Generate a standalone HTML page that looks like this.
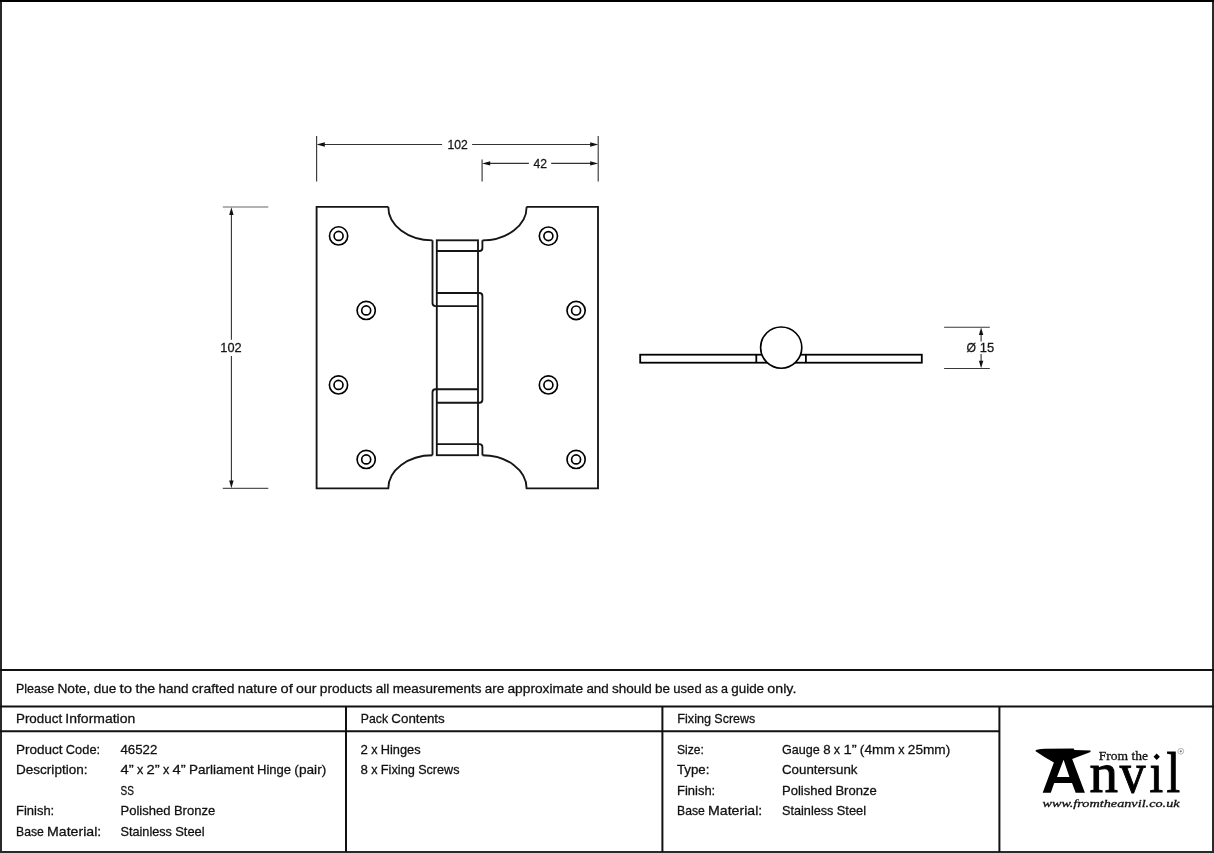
<!DOCTYPE html>
<html><head><meta charset="utf-8"><style>
html,body{margin:0;padding:0;background:#fff;width:1214px;height:853px;overflow:hidden}
svg{display:block;font-family:"Liberation Sans",sans-serif;will-change:transform}
</style></head><body>
<svg width="1214" height="853" viewBox="0 0 1214 853">
<rect width="1214" height="853" fill="#fff"/>
<rect x="1" y="1" width="1212" height="851" fill="none" stroke="#2a2a2a" stroke-width="2"/>
<line x1="0" y1="1" x2="1214" y2="1" stroke="#000" stroke-width="2"/>
<line x1="0" y1="670.1" x2="1214" y2="670.1" stroke="#111" stroke-width="2"/>
<line x1="0" y1="706.5" x2="1214" y2="706.5" stroke="#111" stroke-width="2"/>
<line x1="0" y1="731.3" x2="999.4" y2="731.3" stroke="#111" stroke-width="2"/>
<line x1="346.0" y1="706" x2="346.0" y2="852" stroke="#111" stroke-width="2"/>
<line x1="662.4" y1="706" x2="662.4" y2="852" stroke="#111" stroke-width="2"/>
<line x1="999.4" y1="706" x2="999.4" y2="852" stroke="#111" stroke-width="2"/>
<text x="16.00" y="693.1" font-size="13.40" fill="#111" textLength="38.13" lengthAdjust="spacingAndGlyphs" stroke="#111" stroke-width="0.28">Please</text>
<text x="57.43" y="693.1" font-size="13.40" fill="#111" textLength="32.92" lengthAdjust="spacingAndGlyphs" stroke="#111" stroke-width="0.28">Note,</text>
<text x="93.65" y="693.1" font-size="13.40" fill="#111" textLength="22.61" lengthAdjust="spacingAndGlyphs" stroke="#111" stroke-width="0.28">due</text>
<text x="119.55" y="693.1" font-size="13.40" fill="#111" textLength="12.59" lengthAdjust="spacingAndGlyphs" stroke="#111" stroke-width="0.28">to</text>
<text x="135.44" y="693.1" font-size="13.40" fill="#111" textLength="19.83" lengthAdjust="spacingAndGlyphs" stroke="#111" stroke-width="0.28">the</text>
<text x="158.57" y="693.1" font-size="13.40" fill="#111" textLength="30.01" lengthAdjust="spacingAndGlyphs" stroke="#111" stroke-width="0.28">hand</text>
<text x="191.88" y="693.1" font-size="13.40" fill="#111" textLength="42.54" lengthAdjust="spacingAndGlyphs" stroke="#111" stroke-width="0.28">crafted</text>
<text x="237.72" y="693.1" font-size="13.40" fill="#111" textLength="39.58" lengthAdjust="spacingAndGlyphs" stroke="#111" stroke-width="0.28">nature</text>
<text x="280.60" y="693.1" font-size="13.40" fill="#111" textLength="12.15" lengthAdjust="spacingAndGlyphs" stroke="#111" stroke-width="0.28">of</text>
<text x="296.05" y="693.1" font-size="13.40" fill="#111" textLength="20.46" lengthAdjust="spacingAndGlyphs" stroke="#111" stroke-width="0.28">our</text>
<text x="319.81" y="693.1" font-size="13.40" fill="#111" textLength="52.58" lengthAdjust="spacingAndGlyphs" stroke="#111" stroke-width="0.28">products</text>
<text x="375.69" y="693.1" font-size="13.40" fill="#111" textLength="13.69" lengthAdjust="spacingAndGlyphs" stroke="#111" stroke-width="0.28">all</text>
<text x="392.68" y="693.1" font-size="13.40" fill="#111" textLength="88.85" lengthAdjust="spacingAndGlyphs" stroke="#111" stroke-width="0.28">measurements</text>
<text x="484.84" y="693.1" font-size="13.40" fill="#111" textLength="19.35" lengthAdjust="spacingAndGlyphs" stroke="#111" stroke-width="0.28">are</text>
<text x="507.49" y="693.1" font-size="13.40" fill="#111" textLength="75.61" lengthAdjust="spacingAndGlyphs" stroke="#111" stroke-width="0.28">approximate</text>
<text x="586.40" y="693.1" font-size="13.40" fill="#111" textLength="22.33" lengthAdjust="spacingAndGlyphs" stroke="#111" stroke-width="0.28">and</text>
<text x="612.03" y="693.1" font-size="13.40" fill="#111" textLength="39.77" lengthAdjust="spacingAndGlyphs" stroke="#111" stroke-width="0.28">should</text>
<text x="655.11" y="693.1" font-size="13.40" fill="#111" textLength="14.94" lengthAdjust="spacingAndGlyphs" stroke="#111" stroke-width="0.28">be</text>
<text x="673.34" y="693.1" font-size="13.40" fill="#111" textLength="28.32" lengthAdjust="spacingAndGlyphs" stroke="#111" stroke-width="0.28">used</text>
<text x="704.96" y="693.1" font-size="13.40" fill="#111" textLength="12.70" lengthAdjust="spacingAndGlyphs" stroke="#111" stroke-width="0.28">as</text>
<text x="720.96" y="693.1" font-size="13.40" fill="#111" textLength="6.99" lengthAdjust="spacingAndGlyphs" stroke="#111" stroke-width="0.28">a</text>
<text x="731.26" y="693.1" font-size="13.40" fill="#111" textLength="32.83" lengthAdjust="spacingAndGlyphs" stroke="#111" stroke-width="0.28">guide</text>
<text x="767.39" y="693.1" font-size="13.40" fill="#111" textLength="29.01" lengthAdjust="spacingAndGlyphs" stroke="#111" stroke-width="0.28">only.</text>
<text x="16.00" y="722.6" font-size="13.40" fill="#111" textLength="46.10" lengthAdjust="spacingAndGlyphs" stroke="#111" stroke-width="0.28">Product</text>
<text x="65.35" y="722.6" font-size="13.40" fill="#111" textLength="69.89" lengthAdjust="spacingAndGlyphs" stroke="#111" stroke-width="0.28">Information</text>
<text x="360.80" y="722.6" font-size="13.40" fill="#111" textLength="27.25" lengthAdjust="spacingAndGlyphs" stroke="#111" stroke-width="0.28">Pack</text>
<text x="391.34" y="722.6" font-size="13.40" fill="#111" textLength="53.40" lengthAdjust="spacingAndGlyphs" stroke="#111" stroke-width="0.28">Contents</text>
<text x="677.30" y="722.6" font-size="13.40" fill="#111" textLength="33.81" lengthAdjust="spacingAndGlyphs" stroke="#111" stroke-width="0.28">Fixing</text>
<text x="714.36" y="722.6" font-size="13.40" fill="#111" textLength="40.82" lengthAdjust="spacingAndGlyphs" stroke="#111" stroke-width="0.28">Screws</text>
<text x="16.00" y="753.5" font-size="13.40" fill="#111" textLength="46.58" lengthAdjust="spacingAndGlyphs" stroke="#111" stroke-width="0.28">Product</text>
<text x="65.87" y="753.5" font-size="13.40" fill="#111" textLength="34.21" lengthAdjust="spacingAndGlyphs" stroke="#111" stroke-width="0.28">Code:</text>
<text x="16.00" y="774.0" font-size="13.40" fill="#111" textLength="71.51" lengthAdjust="spacingAndGlyphs" stroke="#111" stroke-width="0.28">Description:</text>
<text x="16.00" y="815.0" font-size="13.40" fill="#111" textLength="38.24" lengthAdjust="spacingAndGlyphs" stroke="#111" stroke-width="0.28">Finish:</text>
<text x="16.00" y="835.5" font-size="13.40" fill="#111" textLength="27.81" lengthAdjust="spacingAndGlyphs" stroke="#111" stroke-width="0.28">Base</text>
<text x="47.10" y="835.5" font-size="13.40" fill="#111" textLength="54.14" lengthAdjust="spacingAndGlyphs" stroke="#111" stroke-width="0.28">Material:</text>
<text x="120.50" y="753.5" font-size="13.40" fill="#111" textLength="36.87" lengthAdjust="spacingAndGlyphs" stroke="#111" stroke-width="0.28">46522</text>
<text x="120.50" y="774.0" font-size="13.40" fill="#111" textLength="13.18" lengthAdjust="spacingAndGlyphs" stroke="#111" stroke-width="0.28">4”</text>
<text x="136.97" y="774.0" font-size="13.40" fill="#111" textLength="6.30" lengthAdjust="spacingAndGlyphs" stroke="#111" stroke-width="0.28">x</text>
<text x="146.56" y="774.0" font-size="13.40" fill="#111" textLength="13.18" lengthAdjust="spacingAndGlyphs" stroke="#111" stroke-width="0.28">2”</text>
<text x="163.03" y="774.0" font-size="13.40" fill="#111" textLength="6.30" lengthAdjust="spacingAndGlyphs" stroke="#111" stroke-width="0.28">x</text>
<text x="172.62" y="774.0" font-size="13.40" fill="#111" textLength="13.18" lengthAdjust="spacingAndGlyphs" stroke="#111" stroke-width="0.28">4”</text>
<text x="189.09" y="774.0" font-size="13.40" fill="#111" textLength="64.59" lengthAdjust="spacingAndGlyphs" stroke="#111" stroke-width="0.28">Parliament</text>
<text x="256.96" y="774.0" font-size="13.40" fill="#111" textLength="34.14" lengthAdjust="spacingAndGlyphs" stroke="#111" stroke-width="0.28">Hinge</text>
<text x="294.39" y="774.0" font-size="13.40" fill="#111" textLength="31.85" lengthAdjust="spacingAndGlyphs" stroke="#111" stroke-width="0.28">(pair)</text>
<text x="120.50" y="794.5" font-size="13.40" fill="#111" textLength="13.37" lengthAdjust="spacingAndGlyphs" stroke="#111" stroke-width="0.28">SS</text>
<text x="120.50" y="815.0" font-size="13.40" fill="#111" textLength="50.09" lengthAdjust="spacingAndGlyphs" stroke="#111" stroke-width="0.28">Polished</text>
<text x="173.88" y="815.0" font-size="13.40" fill="#111" textLength="41.29" lengthAdjust="spacingAndGlyphs" stroke="#111" stroke-width="0.28">Bronze</text>
<text x="120.50" y="835.5" font-size="13.40" fill="#111" textLength="51.47" lengthAdjust="spacingAndGlyphs" stroke="#111" stroke-width="0.28">Stainless</text>
<text x="175.26" y="835.5" font-size="13.40" fill="#111" textLength="29.38" lengthAdjust="spacingAndGlyphs" stroke="#111" stroke-width="0.28">Steel</text>
<text x="360.50" y="753.5" font-size="13.40" fill="#111" textLength="7.37" lengthAdjust="spacingAndGlyphs" stroke="#111" stroke-width="0.28">2</text>
<text x="371.16" y="753.5" font-size="13.40" fill="#111" textLength="6.30" lengthAdjust="spacingAndGlyphs" stroke="#111" stroke-width="0.28">x</text>
<text x="380.75" y="753.5" font-size="13.40" fill="#111" textLength="39.83" lengthAdjust="spacingAndGlyphs" stroke="#111" stroke-width="0.28">Hinges</text>
<text x="360.50" y="774.0" font-size="13.40" fill="#111" textLength="7.37" lengthAdjust="spacingAndGlyphs" stroke="#111" stroke-width="0.28">8</text>
<text x="371.16" y="774.0" font-size="13.40" fill="#111" textLength="6.30" lengthAdjust="spacingAndGlyphs" stroke="#111" stroke-width="0.28">x</text>
<text x="380.75" y="774.0" font-size="13.40" fill="#111" textLength="34.16" lengthAdjust="spacingAndGlyphs" stroke="#111" stroke-width="0.28">Fixing</text>
<text x="418.20" y="774.0" font-size="13.40" fill="#111" textLength="41.24" lengthAdjust="spacingAndGlyphs" stroke="#111" stroke-width="0.28">Screws</text>
<text x="677.00" y="753.5" font-size="13.40" fill="#111" textLength="26.90" lengthAdjust="spacingAndGlyphs" stroke="#111" stroke-width="0.28">Size:</text>
<text x="677.00" y="774.0" font-size="13.40" fill="#111" textLength="32.45" lengthAdjust="spacingAndGlyphs" stroke="#111" stroke-width="0.28">Type:</text>
<text x="677.00" y="794.5" font-size="13.40" fill="#111" textLength="38.24" lengthAdjust="spacingAndGlyphs" stroke="#111" stroke-width="0.28">Finish:</text>
<text x="677.00" y="815.0" font-size="13.40" fill="#111" textLength="27.81" lengthAdjust="spacingAndGlyphs" stroke="#111" stroke-width="0.28">Base</text>
<text x="708.10" y="815.0" font-size="13.40" fill="#111" textLength="54.14" lengthAdjust="spacingAndGlyphs" stroke="#111" stroke-width="0.28">Material:</text>
<text x="782.00" y="753.5" font-size="13.40" fill="#111" textLength="37.88" lengthAdjust="spacingAndGlyphs" stroke="#111" stroke-width="0.28">Gauge</text>
<text x="823.17" y="753.5" font-size="13.40" fill="#111" textLength="7.37" lengthAdjust="spacingAndGlyphs" stroke="#111" stroke-width="0.28">8</text>
<text x="833.83" y="753.5" font-size="13.40" fill="#111" textLength="6.30" lengthAdjust="spacingAndGlyphs" stroke="#111" stroke-width="0.28">x</text>
<text x="843.43" y="753.5" font-size="13.40" fill="#111" textLength="13.18" lengthAdjust="spacingAndGlyphs" stroke="#111" stroke-width="0.28">1”</text>
<text x="859.89" y="753.5" font-size="13.40" fill="#111" textLength="35.03" lengthAdjust="spacingAndGlyphs" stroke="#111" stroke-width="0.28">(4mm</text>
<text x="898.22" y="753.5" font-size="13.40" fill="#111" textLength="6.30" lengthAdjust="spacingAndGlyphs" stroke="#111" stroke-width="0.28">x</text>
<text x="907.81" y="753.5" font-size="13.40" fill="#111" textLength="42.41" lengthAdjust="spacingAndGlyphs" stroke="#111" stroke-width="0.28">25mm)</text>
<text x="782.00" y="774.0" font-size="13.40" fill="#111" textLength="75.50" lengthAdjust="spacingAndGlyphs" stroke="#111" stroke-width="0.28">Countersunk</text>
<text x="782.00" y="794.5" font-size="13.40" fill="#111" textLength="50.09" lengthAdjust="spacingAndGlyphs" stroke="#111" stroke-width="0.28">Polished</text>
<text x="835.38" y="794.5" font-size="13.40" fill="#111" textLength="41.29" lengthAdjust="spacingAndGlyphs" stroke="#111" stroke-width="0.28">Bronze</text>
<text x="782.00" y="815.0" font-size="13.40" fill="#111" textLength="51.47" lengthAdjust="spacingAndGlyphs" stroke="#111" stroke-width="0.28">Stainless</text>
<text x="836.76" y="815.0" font-size="13.40" fill="#111" textLength="29.38" lengthAdjust="spacingAndGlyphs" stroke="#111" stroke-width="0.28">Steel</text>
<line x1="316.6" y1="136" x2="316.6" y2="181.5" stroke="#383838" stroke-width="1.15"/>
<line x1="598.2" y1="136" x2="598.2" y2="181.5" stroke="#383838" stroke-width="1.15"/>
<line x1="482.1" y1="159.5" x2="482.1" y2="181.5" stroke="#383838" stroke-width="1.15"/>
<line x1="320" y1="144.5" x2="442.1" y2="144.5" stroke="#333" stroke-width="1.1"/>
<line x1="472.1" y1="144.5" x2="594" y2="144.5" stroke="#333" stroke-width="1.1"/>
<polygon points="316.6,144.5 324.8,142.3 324.8,146.7" fill="#111"/>
<polygon points="598.2,144.5 590.2,142.3 590.2,146.7" fill="#111"/>
<line x1="486" y1="163.4" x2="528.9" y2="163.4" stroke="#333" stroke-width="1.1"/>
<line x1="551.2" y1="163.4" x2="594" y2="163.4" stroke="#333" stroke-width="1.1"/>
<polygon points="482.1,163.4 490.2,161.2 490.2,165.6" fill="#111"/>
<polygon points="598.2,163.4 590.2,161.2 590.2,165.6" fill="#111"/>
<text x="447.5" y="149.4" font-size="13.20" fill="#1a1a1a" textLength="20.3" lengthAdjust="spacingAndGlyphs" stroke="#111" stroke-width="0.28">102</text>
<text x="533.5" y="167.7" font-size="13.20" fill="#1a1a1a" textLength="13.5" lengthAdjust="spacingAndGlyphs" stroke="#111" stroke-width="0.28">42</text>
<line x1="222.8" y1="207.0" x2="268.3" y2="207.0" stroke="#666" stroke-width="1.2"/>
<line x1="222.8" y1="488.4" x2="268.3" y2="488.4" stroke="#555" stroke-width="1.2"/>
<line x1="231.4" y1="211" x2="231.4" y2="339.7" stroke="#333" stroke-width="1.1"/>
<line x1="231.4" y1="355.9" x2="231.4" y2="484" stroke="#333" stroke-width="1.1"/>
<polygon points="231.4,207.2 229.2,215 233.6,215" fill="#111"/>
<polygon points="231.4,488.2 229.2,480.4 233.6,480.4" fill="#111"/>
<text x="220.3" y="352.4" font-size="13.20" fill="#1a1a1a" textLength="21.3" lengthAdjust="spacingAndGlyphs" stroke="#111" stroke-width="0.28">102</text>
<line x1="944.1" y1="327.2" x2="989.8" y2="327.2" stroke="#383838" stroke-width="1.15"/>
<line x1="944.1" y1="368.5" x2="989.8" y2="368.5" stroke="#383838" stroke-width="1.15"/>
<line x1="981.1" y1="331" x2="981.1" y2="341.4" stroke="#333" stroke-width="1.1"/>
<line x1="981.1" y1="354.1" x2="981.1" y2="365" stroke="#333" stroke-width="1.1"/>
<polygon points="981.1,327.5 978.9,335 983.3,335" fill="#111"/>
<polygon points="981.1,368.2 978.9,360.7 983.3,360.7" fill="#111"/>
<text x="966.5" y="351.7" font-size="13.20" fill="#1a1a1a" textLength="9.5" lengthAdjust="spacingAndGlyphs" stroke="#111" stroke-width="0.28">Ø</text>
<text x="979.8" y="351.7" font-size="13.20" fill="#1a1a1a" textLength="14.4" lengthAdjust="spacingAndGlyphs" stroke="#111" stroke-width="0.28">15</text>
<path d="M388.3,206.8 L316.6,206.8 L316.6,488.4 L388.3,488.4 A44.2,33.2 0 0 1 432.5,455.2" fill="none" stroke="#151515" stroke-width="1.85" stroke-linejoin="miter"/>
<path d="M388.3,206.8 A44.2,33.2 0 0 0 432.5,240.3" fill="none" stroke="#151515" stroke-width="1.85" stroke-linejoin="miter"/>
<path d="M526.6,206.8 L598.0,206.8 L598.0,488.4 L526.6,488.4 A44.2,33.2 0 0 0 482.4,455.2" fill="none" stroke="#151515" stroke-width="1.85" stroke-linejoin="miter"/>
<path d="M526.6,206.8 A44.2,33.2 0 0 1 482.4,240.3" fill="none" stroke="#151515" stroke-width="1.85" stroke-linejoin="miter"/>
<rect x="436.8" y="240.3" width="41.2" height="214.9" fill="none" stroke="#151515" stroke-width="1.85" stroke-linejoin="miter"/>
<path d="M432.5,240.3 L432.5,303.1 Q432.5,306.1 435.5,306.1 L478.0,306.1" fill="none" stroke="#151515" stroke-width="1.85" stroke-linejoin="miter"/>
<path d="M478.0,389.2 L435.5,389.2 Q432.5,389.2 432.5,392.2 L432.5,455.2" fill="none" stroke="#151515" stroke-width="1.85" stroke-linejoin="miter"/>
<path d="M482.4,240.3 L482.4,248.0 Q482.4,251.0 479.4,251.0 L436.8,251.0" fill="none" stroke="#151515" stroke-width="1.85" stroke-linejoin="miter"/>
<path d="M436.8,293.0 L479.4,293.0 Q482.4,293.0 482.4,296.0 L482.4,399.7 Q482.4,402.7 479.4,402.7 L436.8,402.7" fill="none" stroke="#151515" stroke-width="1.85" stroke-linejoin="miter"/>
<path d="M436.8,444.1 L479.4,444.1 Q482.4,444.1 482.4,447.1 L482.4,455.2" fill="none" stroke="#151515" stroke-width="1.85" stroke-linejoin="miter"/>
<circle cx="338.6" cy="235.9" r="9.1" fill="none" stroke="#000" stroke-width="1.65"/><circle cx="338.6" cy="235.9" r="4.5" fill="none" stroke="#000" stroke-width="1.65"/>
<circle cx="366.2" cy="310.4" r="9.1" fill="none" stroke="#000" stroke-width="1.65"/><circle cx="366.2" cy="310.4" r="4.5" fill="none" stroke="#000" stroke-width="1.65"/>
<circle cx="338.5" cy="384.9" r="9.1" fill="none" stroke="#000" stroke-width="1.65"/><circle cx="338.5" cy="384.9" r="4.5" fill="none" stroke="#000" stroke-width="1.65"/>
<circle cx="366.2" cy="459.4" r="9.1" fill="none" stroke="#000" stroke-width="1.65"/><circle cx="366.2" cy="459.4" r="4.5" fill="none" stroke="#000" stroke-width="1.65"/>
<circle cx="548.4" cy="236.1" r="9.1" fill="none" stroke="#000" stroke-width="1.65"/><circle cx="548.4" cy="236.1" r="4.5" fill="none" stroke="#000" stroke-width="1.65"/>
<circle cx="576.1" cy="310.5" r="9.1" fill="none" stroke="#000" stroke-width="1.65"/><circle cx="576.1" cy="310.5" r="4.5" fill="none" stroke="#000" stroke-width="1.65"/>
<circle cx="548.4" cy="384.9" r="9.1" fill="none" stroke="#000" stroke-width="1.65"/><circle cx="548.4" cy="384.9" r="4.5" fill="none" stroke="#000" stroke-width="1.65"/>
<circle cx="576.1" cy="459.4" r="9.1" fill="none" stroke="#000" stroke-width="1.65"/><circle cx="576.1" cy="459.4" r="4.5" fill="none" stroke="#000" stroke-width="1.65"/>
<rect x="640.2" y="354.7" width="281.6" height="8.0" fill="none" stroke="#000" stroke-width="1.8"/>
<line x1="756.3" y1="354.7" x2="756.3" y2="362.7" fill="none" stroke="#000" stroke-width="1.8"/>
<line x1="805.9" y1="354.7" x2="805.9" y2="362.7" fill="none" stroke="#000" stroke-width="1.8"/>
<circle cx="781.2" cy="347.6" r="20.6" fill="#fff" stroke="#000" stroke-width="1.65"/>
<path d="M1035.3,750.9 Q1036,749 1045,748.8 L1073.6,748.6 L1074.5,750 L1090.5,750.4 L1090.5,752 Q1080,756 1072.2,759 L1084.9,792.8 L1075.7,792.8 L1072,782.9 L1054.2,782.9 L1050.8,792.8 L1042.7,792.8 L1053.9,762.5 Q1044,757 1035.3,750.9 Z M1063.6,759.7 L1057,777 L1069.4,777 Z" fill="#000" fill-rule="evenodd"/>
<text x="1098.8" y="759.9" font-family="Liberation Serif" font-size="13.5" fill="#111" stroke="#111" stroke-width="0.3" textLength="49.2" lengthAdjust="spacingAndGlyphs">From the</text>
<text transform="translate(1089.40,792.4) scale(1.000,1)" x="0" y="0" font-family="Liberation Serif" font-size="57" fill="#000" stroke="#000" stroke-width="1.0">n</text>
<text transform="translate(1119.70,792.4) scale(0.900,1)" x="0" y="0" font-family="Liberation Serif" font-size="57" fill="#000" stroke="#000" stroke-width="1.0">v</text>
<text transform="translate(1149.60,792.4) scale(0.860,1)" x="0" y="0" font-family="Liberation Serif" font-size="57" fill="#000" stroke="#000" stroke-width="1.0">ı</text>
<text transform="translate(1166.60,792.4) scale(0.860,1)" x="0" y="0" font-family="Liberation Serif" font-size="57" fill="#000" stroke="#000" stroke-width="1.0">l</text>
<path d="M1156.7,753.6 L1159.9,756.8 L1156.7,760.0 L1153.5,756.8 Z" fill="#000"/>
<circle cx="1180.8" cy="751.3" r="2.9" fill="none" stroke="#aaa" stroke-width="0.9"/><circle cx="1180.8" cy="751.3" r="1.1" fill="#777"/>
<text x="1042.4" y="807.4" font-family="Liberation Serif" font-style="italic" font-size="11.2" fill="#111" stroke="#111" stroke-width="0.3" textLength="137.2" lengthAdjust="spacingAndGlyphs">www.fromtheanvil.co.uk</text>
</svg>
</body></html>
